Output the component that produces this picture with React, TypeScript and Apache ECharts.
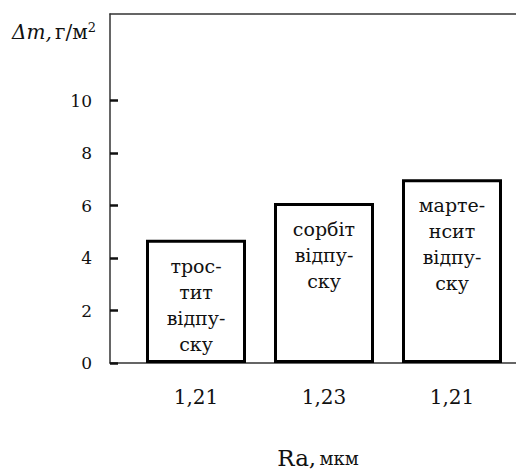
import React, { useEffect, useRef } from "react";
import * as echarts from "echarts";

const categories = ["1,21", "1,23", "1,21"];
const massLoss = [4.7, 6.1, 7.0];
const barLabels = ["трос-\nтит\nвідпу-\nску", "сорбіт\nвідпу-\nску", "марте-\nнсит\nвідпу-\nску"];
const yTicks = [0, 2, 4, 6, 8, 10];
const Y_MAX = 13.3;

const FONT = "DejaVu Serif";

export default function App() {
  const ref = useRef<HTMLDivElement>(null);
  useEffect(() => {
    document.body.style.margin = "0";
    const chart = echarts.init(ref.current!, undefined, { renderer: "svg" });
    chart.setOption({
      animation: false,
      backgroundColor: "#ffffff",
      grid: [
        { left: 132, right: 0, top: 14, bottom: 107 },
        { left: 110, right: 0, top: 14, bottom: 107 },
      ],
      xAxis: [
        {
          type: "category",
          gridIndex: 0,
          data: categories,
          axisLine: { show: false },
          axisTick: { show: false },
          axisLabel: { fontFamily: FONT, fontSize: 20, color: "#111", margin: 24 },
        },
        {
          type: "value",
          gridIndex: 1,
          min: 0,
          max: 1,
          position: "bottom",
          axisLine: { show: true, lineStyle: { color: "#333", width: 1.5 } },
          axisTick: { show: false },
          axisLabel: { show: false },
          splitLine: { show: false },
        },
        {
          type: "value",
          gridIndex: 1,
          min: 0,
          max: 1,
          position: "top",
          axisLine: { show: true, lineStyle: { color: "#333", width: 1.5 } },
          axisTick: { show: false },
          axisLabel: { show: false },
          splitLine: { show: false },
        },
      ],
      yAxis: [
        {
          type: "value",
          gridIndex: 0,
          min: 0,
          max: Y_MAX,
          show: false,
          splitLine: { show: false },
        },
        {
          type: "value",
          gridIndex: 1,
          min: 0,
          max: Y_MAX,
          axisLine: { show: true, lineStyle: { color: "#333", width: 1.5 } },
          axisTick: {
            show: true,
            inside: true,
            length: 8,
            lineStyle: { color: "#111", width: 2.5 },
            customValues: yTicks,
          },
          axisLabel: {
            fontFamily: FONT,
            fontSize: 17,
            color: "#111",
            margin: 18,
            customValues: yTicks,
          },
          splitLine: { show: false },
        },
      ],
      series: [
        {
          type: "bar",
          xAxisIndex: 0,
          yAxisIndex: 0,
          barWidth: 100,
          data: massLoss.map((v, i) => ({
            value: v,
            label: { formatter: barLabels[i] },
          })),
          itemStyle: { color: "#ffffff", borderColor: "#000", borderWidth: 3 },
          label: {
            show: true,
            position: "insideTop",
            distance: 13,
            fontFamily: FONT,
            fontSize: 19,
            lineHeight: 26,
            color: "#111",
            align: "center",
          },
        },
      ],
      graphic: [
        {
          type: "text",
          x: 12,
          y: 32,
          style: {
            text: "{i|Δm,} {n|г/м}{s|2}",
            verticalAlign: "middle",
            rich: {
              i: { fontFamily: FONT, fontSize: 20, fontStyle: "italic", fill: "#111" },
              n: { fontFamily: FONT, fontSize: 20, fill: "#111" },
              s: { fontFamily: FONT, fontSize: 13, fill: "#111", padding: [0, 0, 10, 0] },
            },
          },
        },
        {
          type: "text",
          x: 318,
          y: 458,
          style: {
            text: "{a|Ra,} {b|мкм}",
            align: "center",
            verticalAlign: "middle",
            rich: {
              a: { fontFamily: FONT, fontSize: 23, fill: "#111" },
              b: { fontFamily: FONT, fontSize: 18, fill: "#111" },
            },
          },
        },
      ],
    });
    return () => chart.dispose();
  }, []);
  return <div ref={ref} style={{ width: 516, height: 470 }} />;
}
